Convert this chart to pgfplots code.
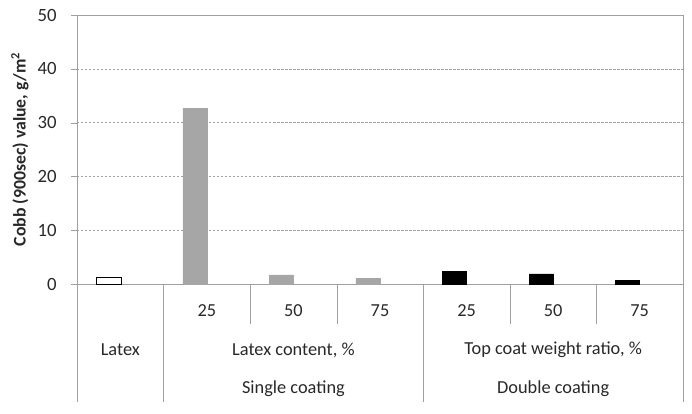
\documentclass[border=0pt]{standalone}
\usepackage{pgfplots}
\pgfplotsset{compat=1.18}
\usepackage{fontspec}
\setmainfont{Carlito}
\definecolor{axgray}{RGB}{160,160,160}
\definecolor{bargray}{RGB}{166,166,166}
\definecolor{txt}{RGB}{40,40,40}
\begin{document}
\begin{tikzpicture}
\fontsize{18.4}{22}\selectfont
\begin{axis}[
 scale only axis, width=606bp, height=269bp,
 xmin=0, xmax=7, ymin=0, ymax=50,
 ytick={0,10,...,50}, xtick=\empty,
 axis line style={axgray},
 ymajorgrids, grid style={axgray, dash pattern=on 2.5bp off 1.5bp},
 tick align=outside, major tick length=6bp, tick style={axgray},
 ytick pos=left,
 y tick label style={/pgf/number format/assume math mode=true, text=txt, font=\fontsize{18.8}{22}\selectfont, xshift=-8bp},
 ylabel={\bfseries Cobb (900sec) value, g/m\textsuperscript{2}},
 ylabel style={at={(axis description cs:-0.094,0.5)}, anchor=center, text=txt, font=\fontsize{17.8}{22}\selectfont},
 clip=false,
]
\addplot[ybar, bar width=0.29, bar shift=0pt, fill=white, draw=black, line width=0.8pt] coordinates {(0.365,1.2)};
\addplot[ybar, bar width=0.277, bar shift=0pt, fill=bargray, draw=bargray] coordinates {(1.361,32.7) (2.361,1.7) (3.361,1.0)};
\addplot[ybar, bar width=0.277, bar shift=0pt, fill=black, draw=black] coordinates {(4.361,2.3) (5.361,1.9) (6.361,0.7)};
% table lines
\draw[axgray] (axis cs:0,0) -- ++(0,-118bp);
\draw[axgray] (axis cs:1,0) -- ++(0,-118bp);
\draw[axgray] (axis cs:4,0) -- ++(0,-118bp);
\draw[axgray] (axis cs:7,0) -- ++(0,-118bp);
\draw[axgray] (axis cs:2,0) -- ++(0,-40bp);
\draw[axgray] (axis cs:3,0) -- ++(0,-40bp);
\draw[axgray] (axis cs:5,0) -- ++(0,-40bp);
\draw[axgray] (axis cs:6,0) -- ++(0,-40bp);
% labels
\node[text=txt] at (axis cs:1.5,0) [yshift=-27bp] {25};
\node[text=txt] at (axis cs:2.5,0) [yshift=-27bp] {50};
\node[text=txt] at (axis cs:3.5,0) [yshift=-27bp] {75};
\node[text=txt] at (axis cs:4.5,0) [yshift=-27bp] {25};
\node[text=txt] at (axis cs:5.5,0) [yshift=-27bp] {50};
\node[text=txt] at (axis cs:6.5,0) [yshift=-27bp] {75};
\node[text=txt] at (axis cs:0.5,0) [yshift=-66bp] {Latex};
\node[text=txt] at (axis cs:2.5,0) [yshift=-66bp] {Latex content, \%};
\node[text=txt] at (axis cs:5.5,0) [yshift=-66bp] {Top coat weight ratio, \%};
\node[text=txt] at (axis cs:2.5,0) [yshift=-105bp] {Single coating};
\node[text=txt] at (axis cs:5.5,0) [yshift=-105bp] {Double coating};
\end{axis}
\path (current axis.south west) ++(-77bp,-130bp) rectangle ++(692bp,414bp);
\end{tikzpicture}
\end{document}
